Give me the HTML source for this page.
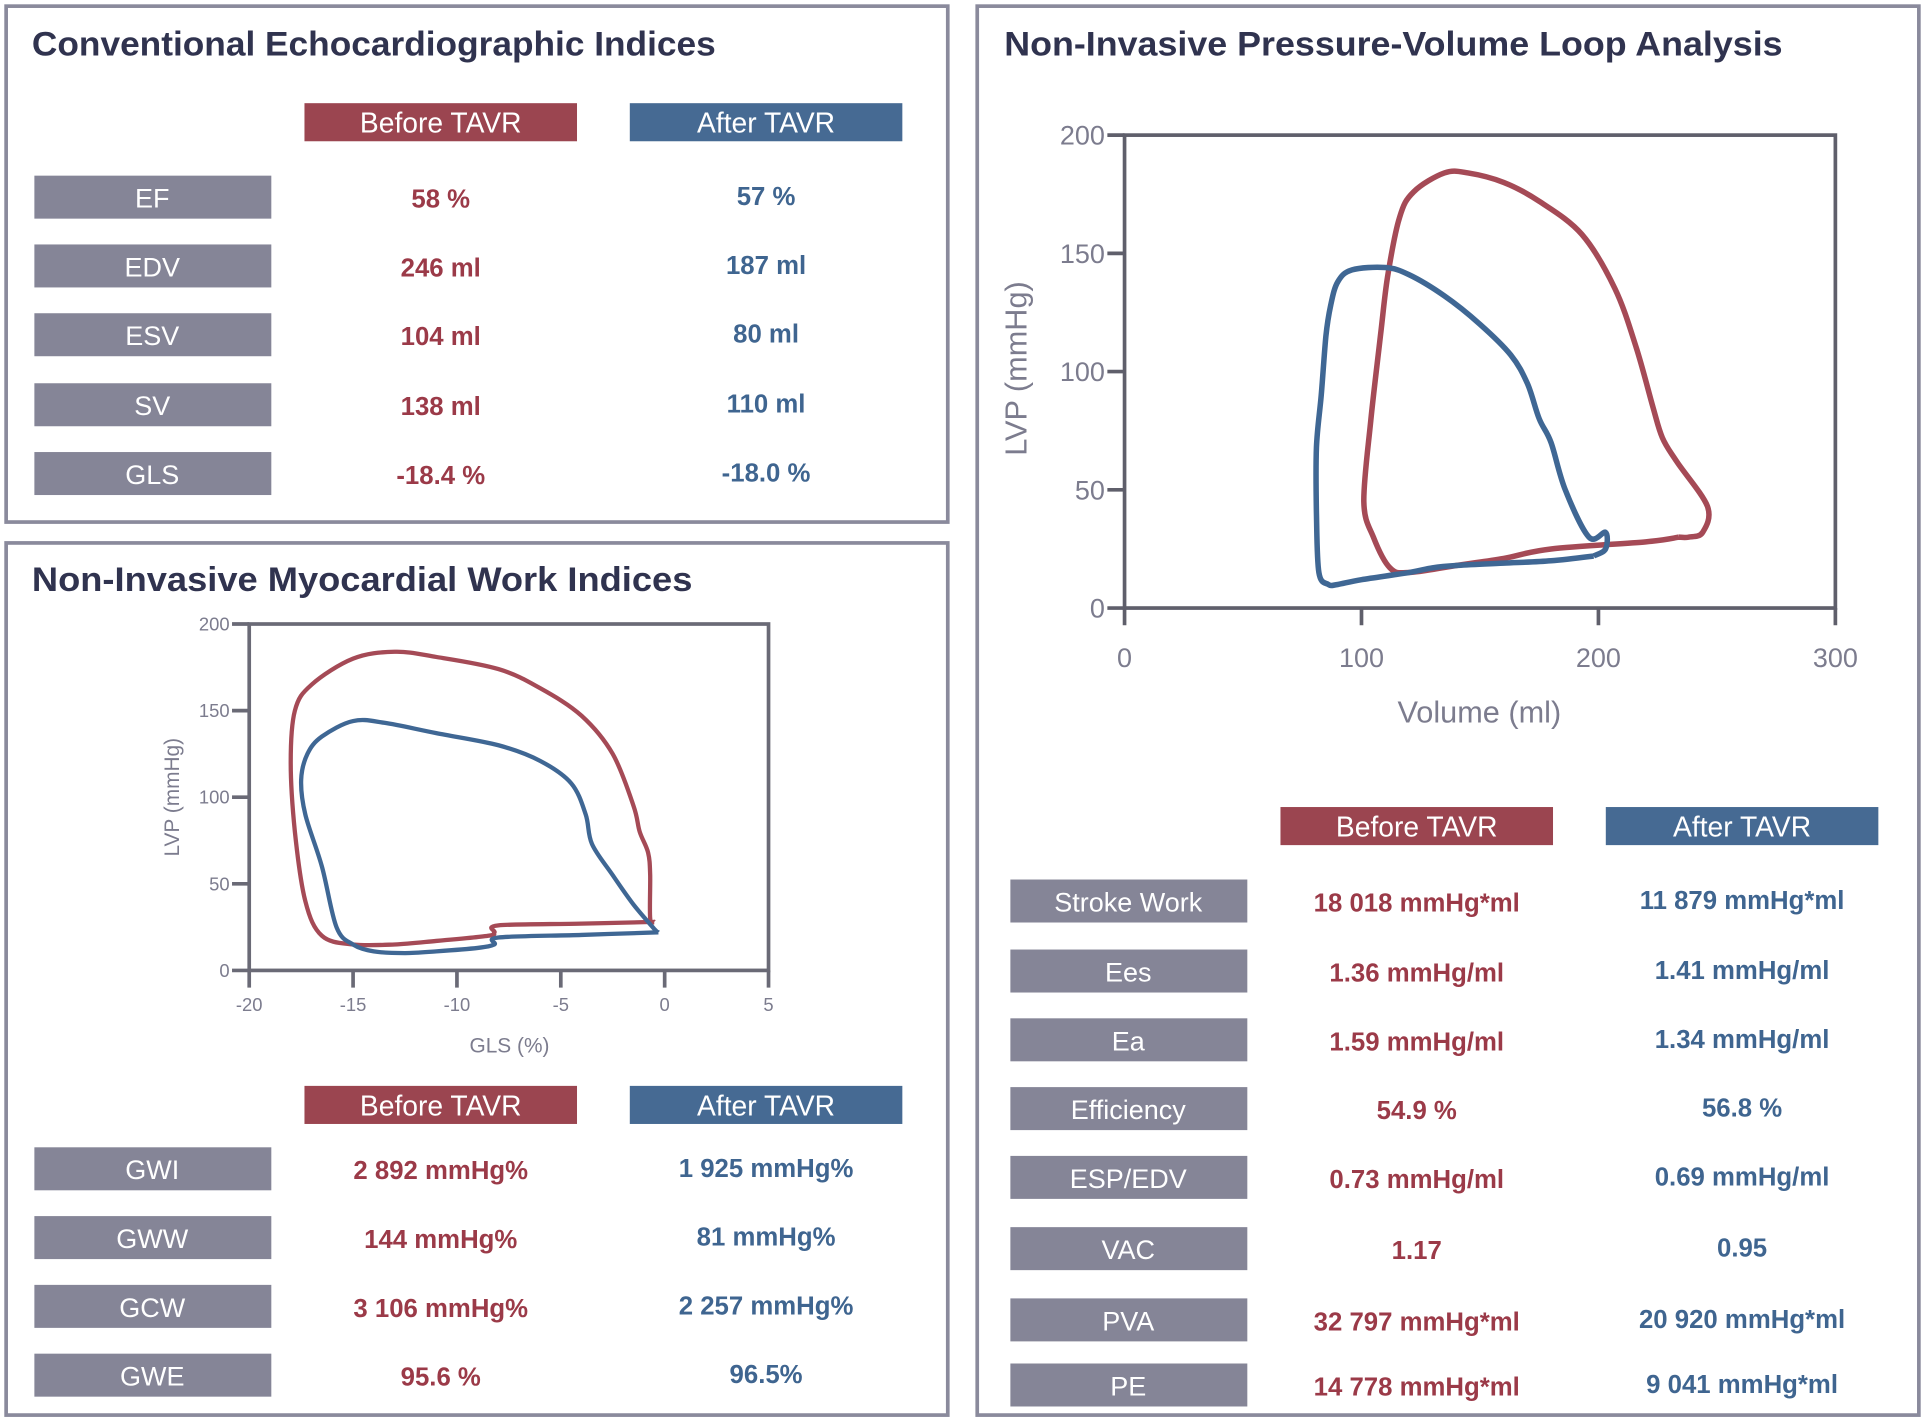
<!DOCTYPE html>
<html><head><meta charset="utf-8"><style>
html,body{margin:0;padding:0;background:#fff;}
svg{display:block;font-family:"Liberation Sans",sans-serif;}
.t{font-weight:bold;fill:#30334f;font-size:28px;}
.hd{fill:#fff;font-size:23px;text-anchor:middle;}
.lb{fill:#fff;font-size:22px;text-anchor:middle;}
.vr{fill:#9b3a48;font-weight:bold;font-size:21px;text-anchor:middle;}
.vb{fill:#3f6590;font-weight:bold;font-size:21px;text-anchor:middle;}
.tk{fill:#7c7c8e;}
</style></head><body>
<svg id="s" width="1925" height="1420" viewBox="0 0 1568 1156" preserveAspectRatio="none" xmlns="http://www.w3.org/2000/svg">
<rect x="5" y="5" width="767" height="420" fill="none" stroke="#8a8a9c" stroke-width="3"/>
<rect x="5" y="442" width="767" height="710" fill="none" stroke="#8a8a9c" stroke-width="3"/>
<rect x="796" y="5" width="767" height="1147" fill="none" stroke="#8a8a9c" stroke-width="3"/>
<text class="t" x="26" y="45" textLength="557" lengthAdjust="spacingAndGlyphs">Conventional Echocardiographic Indices</text>
<text class="t" x="26" y="481" textLength="538" lengthAdjust="spacingAndGlyphs">Non-Invasive Myocardial Work Indices</text>
<text class="t" x="818" y="45" textLength="634" lengthAdjust="spacingAndGlyphs">Non-Invasive Pressure-Volume Loop Analysis</text>
<g id="tables"></g>
<g id="chart1"></g>
<g id="chart2"></g>
</svg>
<script>
const NS="http://www.w3.org/2000/svg";
function mk(tag,attrs,parent,txt){const e=document.createElementNS(NS,tag);for(const k in attrs)e.setAttribute(k,attrs[k]);if(txt!==undefined)e.textContent=txt;parent.appendChild(e);return e;}
const T=document.getElementById('tables');

const echoLabels=["EF","EDV","ESV","SV","GLS"];
const echoBefore=["58 %","246 ml","104 ml","138 ml","-18.4 %"];
const echoAfter=["57 %","187 ml","80 ml","110 ml","-18.0 %"];
const echoRowY=[143,199,255,312,368];
const workLabels=["GWI","GWW","GCW","GWE"];
const workBefore=["2 892 mmHg%","144 mmHg%","3 106 mmHg%","95.6 %"];
const workAfter=["1 925 mmHg%","81 mmHg%","2 257 mmHg%","96.5%"];
const workRowY=[934,990,1046,1102];
const pvLabels=["Stroke Work","Ees","Ea","Efficiency","ESP/EDV","VAC","PVA","PE"];
const pvBefore=["18 018 mmHg*ml","1.36 mmHg/ml","1.59 mmHg/ml","54.9 %","0.73 mmHg/ml","1.17","32 797 mmHg*ml","14 778 mmHg*ml"];
const pvAfter=["11 879 mmHg*ml","1.41 mmHg/ml","1.34 mmHg/ml","56.8 %","0.69 mmHg/ml","0.95","20 920 mmHg*ml","9 041 mmHg*ml"];
const pvRowY=[716,773,829,885,941,999,1057,1110];

function table(prefix,hy,lx,bx,ax,labels,bef,aft,rows,hfs,vfs){
  let h=mk('rect',{x:bx,y:hy,width:222,height:31,fill:'#9b4550'},T);
  
  
  let ht=mk('text',{x:bx+111,y:hy+24,class:'hd'},T,'Before TAVR');
  
  
  let h2=mk('rect',{x:ax,y:hy,width:222,height:31,fill:'#466a93'},T);
  
  
  let ht2=mk('text',{x:ax+111,y:hy+24,class:'hd'},T,'After TAVR');
  
  
  labels.forEach((l,i)=>{
    const y=rows[i];
    let r=mk('rect',{x:lx,y:y,width:193,height:35,fill:'#858597'},T);
    
    
    let lt=mk('text',{x:lx+96,y:y+26,class:'lb'},T,l);
    
    
    let v1=mk('text',{x:bx+111,y:y+26,class:'vr','font-size':vfs},T,bef[i]);
    
    
    let v2=mk('text',{x:ax+111,y:y+24,class:'vb','font-size':vfs},T,aft[i]);
    
    
  });
}
table('echo',84,28,248,513,echoLabels,echoBefore,echoAfter,echoRowY,23,22);
table('work',884,28,248,513,workLabels,workBefore,workAfter,workRowY,23,21);
table('pv',657,823,1043,1308,pvLabels,pvBefore,pvAfter,pvRowY,23,21);

// Chart 1: GLS vs LVP
const glsTicks=[-20,-15,-10,-5,0,5];
const lvpTicks=[0,50,100,150,200];
const redGLS=[-0.5,-4,-8,-8.2,-8.5,-11,-13,-15,-16.5,-17.3,-17.8,-18,-17.8,-17,-15,-13,-11,-8,-6,-4,-2.5,-1.5,-1.2,-0.8,-0.7,-0.7,-0.5];
const redLVP=[28,27,26,22,20,17,15,15,20,40,80,120,150,165,180,184,181,174,163,147,125,95,80,68,55,30,28];
const blueGLS=[-0.3,-4,-8,-8.2,-9,-11,-12.5,-14,-15,-15.8,-16.5,-17.3,-17.5,-17.2,-16.5,-15,-13.5,-11,-8,-6,-4.5,-3.8,-3.5,-2.5,-1.5,-0.5,-0.3];
const blueLVP=[22,20.5,19,15,13,11,10,11,15,25,60,90,110,125,135,144,143,137,130,121,108,90,73,55,38,24,22];

// Chart 2: Volume vs LVP
const volTicks=[0,100,200,300];
const pvTicks=[0,50,100,150,200];
const redVol=[234,220,180,160,140,120,112,105,101,104,108,111,116,122,135,145,160,175,193,207,216,223,227,233,246,244,238,234];
const redP=[30,28,25,21,18,15,17,30,45,80,115,140,165,176,184,184,180,172,158,135,110,85,72,62,43,32,30,30];
const blueVol=[198,180,160,140,130,120,100,90,86,82,81,81,83,85,87,90,96,110,120,135,150,163,170,175,180,186,196,203,203,198];
const blueP=[22,20,19,18,17,15,12,10,10,15,40,68,90,115,128,138,143,144,141,132,120,107,95,80,70,50,30,32,25,22];

function chart(gid,x0,x1,y0,y1,xmin,xmax,ymin,ymax,xt,yt,fs,xl,yl,xlx,xly,ylx,yly,lfs,sw,rx,ry,bx,by,axc,xlOff){
  const G=document.getElementById(gid);
  const X=v=>x0+(v-xmin)/(xmax-xmin)*(x1-x0);
  const Y=v=>y0-(v-ymin)/(ymax-ymin)*(y0-y1);
  let f=mk('rect',{x:x0,y:y1,width:x1-x0,height:y0-y1,fill:'none',stroke:axc,'stroke-width':3},G);
  
  
  xt.forEach(v=>{
    let l=mk('line',{x1:X(v),x2:X(v),y1:y0,y2:y0+14,stroke:axc,'stroke-width':3},G);
    
    
    let t=mk('text',{x:X(v),y:y0+xlOff,'font-size':fs,'text-anchor':'middle',class:'tk'},G,String(v));
    
    
  });
  yt.forEach(v=>{
    let l=mk('line',{x1:x0-14,x2:x0,y1:Y(v),y2:Y(v),stroke:axc,'stroke-width':3},G);
    
    
    let t=mk('text',{x:x0-16,y:Y(v)+fs*0.35,'font-size':fs,'text-anchor':'end',class:'tk'},G,String(v));
    
    
  });
  let a=mk('text',{x:xlx,y:xly,'font-size':lfs,'text-anchor':'middle',class:'tk'},G,xl);
  
  
  let b=mk('text',{x:ylx,y:yly,'font-size':lfs,'text-anchor':'middle',class:'tk',transform:`rotate(-90 ${ylx} ${yly})`},G,yl);
  
  
  const path=(xs,ys)=>{
    const p=xs.map((v,i)=>[X(v),Y(ys[i])]);
    let d='M'+p[0][0].toFixed(1)+' '+p[0][1].toFixed(1);
    for(let i=0;i<p.length-1;i++){
      const a0=p[Math.max(0,i-1)],a1=p[i],a2=p[i+1],a3=p[Math.min(p.length-1,i+2)];
      const c1=[a1[0]+(a2[0]-a0[0])/6,a1[1]+(a2[1]-a0[1])/6];
      const c2=[a2[0]-(a3[0]-a1[0])/6,a2[1]-(a3[1]-a1[1])/6];
      d+=` C${c1[0].toFixed(1)} ${c1[1].toFixed(1)} ${c2[0].toFixed(1)} ${c2[1].toFixed(1)} ${a2[0].toFixed(1)} ${a2[1].toFixed(1)}`;
    }
    return d;
  };
  let pr=mk('path',{d:path(rx,ry),fill:'none',stroke:'#a54a56','stroke-width':sw,'stroke-linejoin':'round'},G);
  
  
  let pb=mk('path',{d:path(bx,by),fill:'none',stroke:'#3f6794','stroke-width':sw,'stroke-linejoin':'round'},G);
  
  
}
chart('chart1',203,626,790,508,-20,5,0,200,glsTicks,lvpTicks,15,'GLS  (%)','LVP (mmHg)',415,857,146,649,17,3.5,redGLS,redLVP,blueGLS,blueLVP,'#6a6a76',33);
chart('chart2',916,1495,495,110,0,300,0,200,volTicks,pvTicks,22,'Volume (ml)','LVP (mmHg)',1205,588,836,300,25,4.5,redVol,redP,blueVol,blueP,'#5f5f6b',48);
</script>
</body></html>
